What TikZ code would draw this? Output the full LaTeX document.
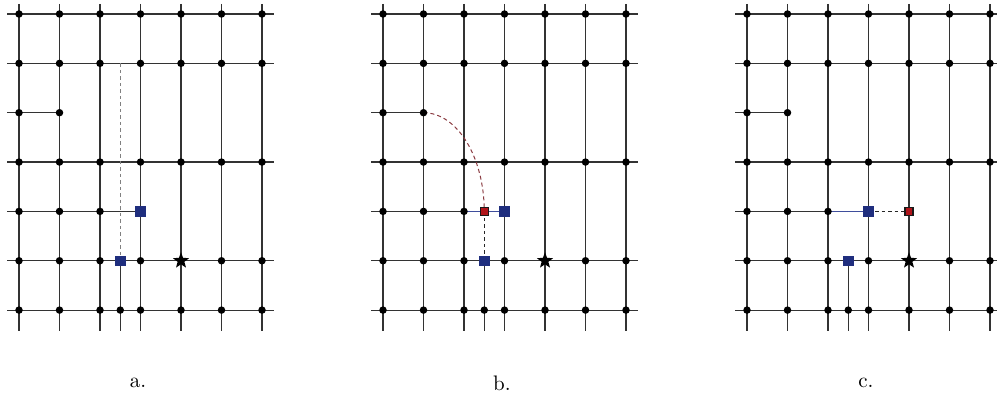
\documentclass[tikz,border=0pt]{standalone}
\usetikzlibrary{shapes.geometric}
\definecolor{sqblue}{HTML}{1F2E7E}
\definecolor{lineblue}{HTML}{3F4E9C}
\definecolor{sqred}{HTML}{B0141A}
\definecolor{curvered}{HTML}{8A3A40}
\tikzset{
  gridline/.style={line width=1.2pt, black!80},
  dashgray/.style={line width=1.2pt, gray, dash pattern=on 3.5pt off 3pt},
  dashblack/.style={line width=1.4pt, black!85, dash pattern=on 3.5pt off 3pt},
  blueline/.style={line width=1.4pt, lineblue},
  curveline/.style={line width=1pt, curvered, dash pattern=on 4pt off 3pt},
  dot/.style={circle, fill=black, inner sep=0pt, minimum size=7.5pt},
  bsq/.style={rectangle, fill=sqblue, inner sep=0pt, minimum size=10.5pt},
  rsq/.style={rectangle, fill=sqred, draw=black!90, line width=1.4pt, inner sep=0pt, minimum size=8pt},
  goal/.style={star, star points=5, star point ratio=2.4, fill=black, inner sep=0pt, minimum size=17pt},
  lbl/.style={font=\fontsize{10}{12}\selectfont, scale=2.1},
}
\begin{document}
\begin{tikzpicture}[x=1pt,y=-1pt]
\useasboundingbox (0,0) rectangle (997,396);
\foreach \p/\dx in {a/0,b/364,c/728}{
  % coordinates
  \foreach \i in {0,...,6}{
    \foreach \j in {0,...,6}{
      \coordinate (\p\i\j) at ({\dx+19+40.5*\i},{14+49.35*\j});
    }
    \coordinate (\p T\i) at ({\dx+19+40.5*\i},4);
    \coordinate (\p B\i) at ({\dx+19+40.5*\i},331);
  }
  \foreach \j in {0,...,6}{
    \coordinate (\p M\j) at ({\dx+120.25},{14+49.35*\j});
    \coordinate (\p L\j) at ({\dx+7},{14+49.35*\j});
    \coordinate (\p R\j) at ({\dx+274},{14+49.35*\j});
  }
  \coordinate (\p MB) at ({\dx+120.25},331);
  % full columns and rows
  \foreach \i in {0,...,6}{
    \draw[gridline] (\p T\i) -- (\p B\i);
  }
  \foreach \j in {0,1,3,5,6}{
    \draw[gridline] (\p L\j) -- (\p R\j);
  }
  \draw[gridline] (\p L2) -- (\p 12);
}
% panel a
\draw[gridline] (aL4) -- (a34);
\draw[dashgray] (aM1) -- (aM5);
\draw[gridline] (aM5) -- (aMB);
% panel b
\draw[gridline] (bL4) -- (b24);
\draw[blueline] (b24) -- (b34);
\draw[dashblack] (bM4) -- (bM5);
\draw[gridline] (bM5) -- (bMB);
\draw[curveline] (b12) .. controls +(33.5,0) and +(0,-54.5) .. (bM4);
% panel c
\draw[gridline] (cL4) -- (c24);
\draw[blueline] (c24) -- (c34);
\draw[dashblack] (c34) -- (c44);
\draw[gridline] (cM5) -- (cMB);
% dots and star
\foreach \p in {a,b,c}{
  \foreach \j in {0,1,3,6}{
    \foreach \i in {0,...,6}{
      \node[dot] (\p d\i\j) at (\p\i\j) {};
    }
  }
  \foreach \i in {0,1}{\node[dot] (\p d\i 2) at (\p\i 2) {};}
  \foreach \i in {0,1,2}{\node[dot] (\p d\i 4) at (\p\i 4) {};}
  \foreach \i in {0,1,2,3,5,6}{\node[dot] (\p d\i 5) at (\p\i 5) {};}
  \node[dot] (\p dM6) at (\p M6) {};
  \node[goal] (\p star) at (\p 45) {};
}
% squares
\node[bsq] (aq1) at (a34) {};
\node[bsq] (aq2) at (aM5) {};
\node[rsq] (br) at (bM4) {};
\node[bsq] (bq1) at (b34) {};
\node[bsq] (bq2) at (bM5) {};
\node[bsq] (cq1) at (c34) {};
\node[bsq] (cq2) at (cM5) {};
\node[rsq] (cr) at (c44) {};
% labels
\node[lbl] (la) at (138,383) {a.};
\node[lbl] (lb) at (502,383) {b.};
\node[lbl] (lc) at (866,383) {c.};
\end{tikzpicture}
\end{document}
